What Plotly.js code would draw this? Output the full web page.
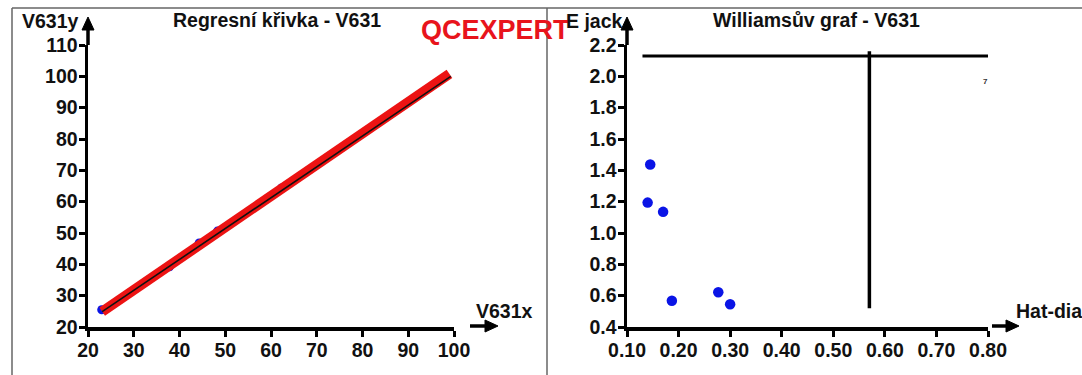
<!DOCTYPE html>
<html>
<head>
<meta charset="utf-8">
<script src="https://cdn.plot.ly/plotly-3.0.1.min.js"></script>
<style>html,body{margin:0;padding:0;background:#fff;}#chart{width:1082px;height:375px;}</style>
</head>
<body>
<div id="chart"></div>
<script>
// ---- data ----
const regX = [23.0, 37.8, 44.3, 48.3, 62.3, 100.3];
const regY = [25.5, 39.2, 46.8, 50.6, 64.4, 100.1];
const bandX = [23.1, 99.0];
const bandY = [24.9, 100.8];
const fitX = [23.1, 99.3];
const fitY = [24.9, 100.0];
const leftXTicks = [20, 30, 40, 50, 60, 70, 80, 90, 100];
const leftYTicks = [20, 30, 40, 50, 60, 70, 80, 90, 100, 110];

const hatX = [0.145, 0.140, 0.170, 0.187, 0.277, 0.300];
const jackY = [1.437, 1.194, 1.135, 0.568, 0.622, 0.545];
const hLineX = [0.13, 0.815];
const hLineY = [2.13, 2.13];
const vLineX = [0.57, 0.57];
const vLineY = [0.52, 2.16];
const rightXTicks = [0.1, 0.2, 0.3, 0.4, 0.5, 0.6, 0.7, 0.8];
const rightXLabels = ['0.10', '0.20', '0.30', '0.40', '0.50', '0.60', '0.70', '0.80'];
const rightYTicks = [0.4, 0.6, 0.8, 1.0, 1.2, 1.4, 1.6, 1.8, 2.0, 2.2];
const rightYLabels = ['0.4', '0.6', '0.8', '1.0', '1.2', '1.4', '1.6', '1.8', '2.0', '2.2'];
const pointLabel = {text: '7', x: 0.795, y: 1.97};

// ---- layout helpers ----
const W = 1082, H = 375;
const px = v => v / W;
const py = v => (H - v) / H;
const FONT = 'Liberation Sans, Arial, sans-serif';
const tickFont = {family: FONT, size: 19.5, color: '#111', weight: 'bold'};
const blue = '#0a14e6';

const traces = [
  {x: regX, y: regY, xaxis: 'x', yaxis: 'y', mode: 'markers', type: 'scatter', cliponaxis: false,
   marker: {color: blue, size: 9}},
  {x: bandX, y: bandY, xaxis: 'x', yaxis: 'y', mode: 'lines', type: 'scatter', cliponaxis: false,
   line: {color: '#ec1313', width: 10}},
  {x: fitX, y: fitY, xaxis: 'x', yaxis: 'y', mode: 'lines', type: 'scatter', cliponaxis: false,
   line: {color: '#111', width: 1.6}},
  {x: hatX, y: jackY, xaxis: 'x2', yaxis: 'y2', mode: 'markers', type: 'scatter', cliponaxis: false,
   marker: {color: blue, size: 10.5}},
  {x: hLineX, y: hLineY, xaxis: 'x2', yaxis: 'y2', mode: 'lines', type: 'scatter', cliponaxis: false,
   line: {color: '#000', width: 3}},
  {x: vLineX, y: vLineY, xaxis: 'x2', yaxis: 'y2', mode: 'lines', type: 'scatter', cliponaxis: false,
   line: {color: '#000', width: 3.5}}
];

const axisCommon = {
  showgrid: false, zeroline: false, showline: true, linecolor: '#000', linewidth: 3.5,
  ticks: 'outside', ticklen: 6, tickwidth: 3, tickcolor: '#000', tickfont: tickFont,
  ticklabelstandoff: -3, fixedrange: true
};

const yDom = [py(327), py(45)];

function arrowUp(x, yBase, yTip) {
  return [
    {type: 'line', xref: 'paper', yref: 'paper', x0: px(x), x1: px(x), y0: py(yBase), y1: py(yTip + 8),
     line: {color: '#000', width: 3.5}},
    {type: 'path', xref: 'paper', yref: 'paper',
     path: `M ${px(x - 6)} ${py(yTip + 13)} L ${px(x + 6)} ${py(yTip + 13)} L ${px(x)} ${py(yTip)} Z`,
     fillcolor: '#000', line: {color: '#000', width: 1}}
  ];
}
function arrowRight(y, xStart, xTip) {
  return [
    {type: 'line', xref: 'paper', yref: 'paper', x0: px(xStart), x1: px(xTip - 8), y0: py(y), y1: py(y),
     line: {color: '#000', width: 3.5}},
    {type: 'path', xref: 'paper', yref: 'paper',
     path: `M ${px(xTip - 13)} ${py(y - 6)} L ${px(xTip - 13)} ${py(y + 6)} L ${px(xTip)} ${py(y)} Z`,
     fillcolor: '#000', line: {color: '#000', width: 1}}
  ];
}

const frame = [
  {type: 'line', xref: 'paper', yref: 'paper', x0: px(12), x1: 1, y0: py(8), y1: py(8), line: {color: '#666', width: 1.5}},
  {type: 'line', xref: 'paper', yref: 'paper', x0: px(12), x1: px(12), y0: py(8), y1: 0, line: {color: '#666', width: 1.5}},
  {type: 'line', xref: 'paper', yref: 'paper', x0: px(547), x1: px(547), y0: py(8), y1: 0, line: {color: '#666', width: 1.5}}
];

const boldText = (text, x, y, size, color, xanchor) => ({
  text: text, x: x, y: y, xref: 'paper', yref: 'paper', showarrow: false,
  xanchor: xanchor || 'center', yanchor: 'middle',
  font: {family: FONT, size: size, color: color || '#111', weight: 'bold'}
});

const layout = {
  width: W, height: H,
  margin: {l: 0, r: 0, t: 0, b: 0},
  paper_bgcolor: '#fff', plot_bgcolor: '#fff',
  showlegend: false,
  xaxis: Object.assign({}, axisCommon, {domain: [px(88), px(454)], range: [20, 100],
    tickvals: leftXTicks, anchor: 'y'}),
  yaxis: Object.assign({}, axisCommon, {domain: yDom, range: [20, 110],
    tickvals: leftYTicks, anchor: 'x'}),
  xaxis2: Object.assign({}, axisCommon, {domain: [px(627), px(988)], range: [0.1, 0.8],
    tickvals: rightXTicks, ticktext: rightXLabels, anchor: 'y2'}),
  yaxis2: Object.assign({}, axisCommon, {domain: yDom, range: [0.4, 2.2],
    tickvals: rightYTicks, ticktext: rightYLabels, anchor: 'x2'}),
  shapes: [].concat(
    frame,
    arrowUp(88, 45, 17),
    arrowRight(326, 470, 498),
    arrowUp(627, 45, 17),
    arrowRight(326, 992, 1019)
  ),
  annotations: [
    boldText('Regresní křivka - V631', px(277), py(20), 19.5),
    boldText('Williamsův graf - V631', px(816), py(20), 19.5),
    boldText('QCEXPERT', px(495), py(30), 27, '#e8141c'),
    boldText('V631y', px(50), py(21), 19.5),
    boldText('V631x', px(474), py(311), 19.5, '#111', 'left'),
    boldText('E jack', px(594), py(21), 19.5),
    boldText('Hat-diag', px(1014), py(311), 19.5, '#111', 'left'),
    {text: pointLabel.text, x: pointLabel.x, y: pointLabel.y, xref: 'x2', yref: 'y2', showarrow: false,
     font: {family: FONT, size: 8, color: '#333', weight: 'bold'}}
  ]
};

Plotly.newPlot('chart', traces, layout, {displayModeBar: false, staticPlot: true});
</script>
</body>
</html>
